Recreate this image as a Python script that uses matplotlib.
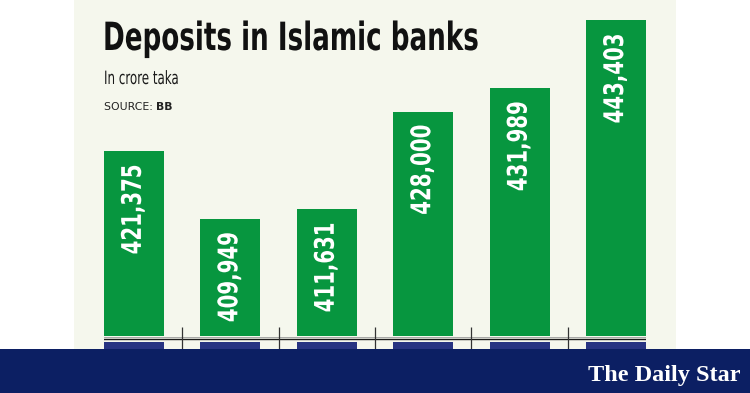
import matplotlib
matplotlib.use("Agg")
import matplotlib.pyplot as plt
from matplotlib import font_manager as fm
from matplotlib.patches import Rectangle
from matplotlib.patheffects import AbstractPathEffect
from matplotlib.transforms import Affine2D

# ---------------- data ----------------
categories = ["P1", "P2", "P3", "P4", "P5", "P6"]
deposits = [421375, 409949, 411631, 428000, 431989, 443403]
value_labels = ["421,375", "409,949", "411,631", "428,000", "431,989", "443,403"]
title = "Deposits in Islamic banks"
subtitle = "In crore taka"
source_label = "SOURCE: "
source_value = "BB"
brand = "The Daily Star"

# ---------------- fonts ----------------
def condensed(weight):
    cands = [
        dict(family="Liberation Sans Narrow", weight=weight),
        dict(family="Noto Sans Condensed", weight=weight),
        dict(family="DejaVu Sans", stretch="condensed", weight=weight),
        dict(family="Roboto Condensed", weight=weight),
    ]
    for kw in cands:
        try:
            fp = fm.FontProperties(**kw)
            path = fm.findfont(fp, fallback_to_default=False)
            low = path.lower()
            if "narrow" in low or "condensed" in low:
                return fp, True
        except Exception:
            pass
    return fm.FontProperties(family="Roboto", weight=weight), False

fp_bold, _ = condensed("bold")
fp_reg, _ = condensed("normal")


class Condense(AbstractPathEffect):
    """Narrow the glyphs along the text baseline (condensed look)."""
    def __init__(self, sx=1.0, anchor="start"):
        super().__init__()
        self.sx = sx
        self.anchor = anchor

    def draw_path(self, renderer, gc, tpath, affine, rgbFace=None):
        if self.anchor == "end":
            x1 = tpath.get_extents().x1
            pre = Affine2D().translate(-x1, 0).scale(self.sx, 1).translate(x1, 0)
        else:
            pre = Affine2D().scale(self.sx, 1)
        renderer.draw_path(gc, tpath, pre + affine, rgbFace)


# ---------------- figure ----------------
W, H = 750, 393
fig = plt.figure(figsize=(W / 100, H / 100), dpi=100)
fig.patch.set_facecolor("white")
renderer = fig.canvas.get_renderer()

def fx(px):
    return px / W

def fy(py):
    return 1 - py / H

def condense_to(txt, target, anchor="start"):
    w = txt.get_window_extent(renderer=renderer)
    ext = max(w.width, w.height)
    sx = min(1.0, target / ext)
    txt.set_path_effects([Condense(sx, anchor)])

green = "#07963f"
navy_band = "#0c1f63"
navy_bar = "#283482"
cream = "#f5f7ed"

fig.add_artist(Rectangle((fx(74), fy(349)), fx(676) - fx(74), fy(0) - fy(349),
                         transform=fig.transFigure, facecolor=cream, edgecolor="none", zorder=0))
fig.add_artist(Rectangle((0, 0), 1, fy(349), transform=fig.transFigure,
                         facecolor=navy_band, edgecolor="none", zorder=5))

x = list(range(len(categories)))
bw = 0.62

ax = fig.add_axes([fx(104), fy(336), fx(646) - fx(104), fy(0) - fy(336)])
ax.set_facecolor("none")
ax.bar(x, deposits, width=bw, color=green, zorder=2)
ax.set_xlim(-bw / 2, len(x) - 1 + bw / 2)
ax.set_ylim(390267, 446766)
for s in ax.spines.values():
    s.set_visible(False)
ax.set_xticks([])
ax.set_yticks([])

for xi, v, lab in zip(x, deposits, value_labels):
    t = ax.annotate(lab, (xi, v), xytext=(0, -13), textcoords="offset pixels",
                    rotation=90, ha="center", va="top", color="white",
                    fontproperties=fp_bold, fontsize=19.5, zorder=3)
    condense_to(t, 90, anchor="end")

ax2 = fig.add_axes([fx(104), fy(349), fx(646) - fx(104), fy(327) - fy(349)], zorder=3)
ax2.set_facecolor("none")
ax2.set_xlim(ax.get_xlim())
ax2.set_ylim(0, 22)
ax2.bar(x, [7] * len(x), width=bw, color=navy_bar, zorder=1)
ax2.axhline(10, color="#1a1a1a", lw=1.0)
ax2.axhline(12, color="#9a9a9a", lw=0.6)
ax2.vlines([i + 0.5 for i in x[:-1]], 0, 22, color="#333333", lw=0.9)
for s in ax2.spines.values():
    s.set_visible(False)
ax2.set_xticks([])
ax2.set_yticks([])

tt = fig.text(fx(103), fy(50), title, fontproperties=fp_bold, fontsize=28,
              color="#111111", va="baseline", ha="left")
condense_to(tt, 376)
ts = fig.text(fx(104), fy(84), subtitle, fontproperties=fp_reg, fontsize=13.2,
              color="#1a1a1a", va="baseline", ha="left")
condense_to(ts, 75)
t1 = fig.text(fx(104), fy(110), source_label, family="DejaVu Sans", fontsize=7.8,
              color="#222222", va="baseline", ha="left")
bb = t1.get_window_extent(renderer=renderer)
fig.text(bb.x1 / W, fy(110), source_value, family="DejaVu Sans", fontweight="bold",
         fontsize=7.8, color="#222222", va="baseline", ha="left")

fig.text(fx(741), fy(381), brand, family="Liberation Serif", fontweight="bold",
         fontsize=17.5, color="white", va="baseline", ha="right", zorder=6)

fig.savefig("out.png", dpi=100, facecolor=fig.get_facecolor())
